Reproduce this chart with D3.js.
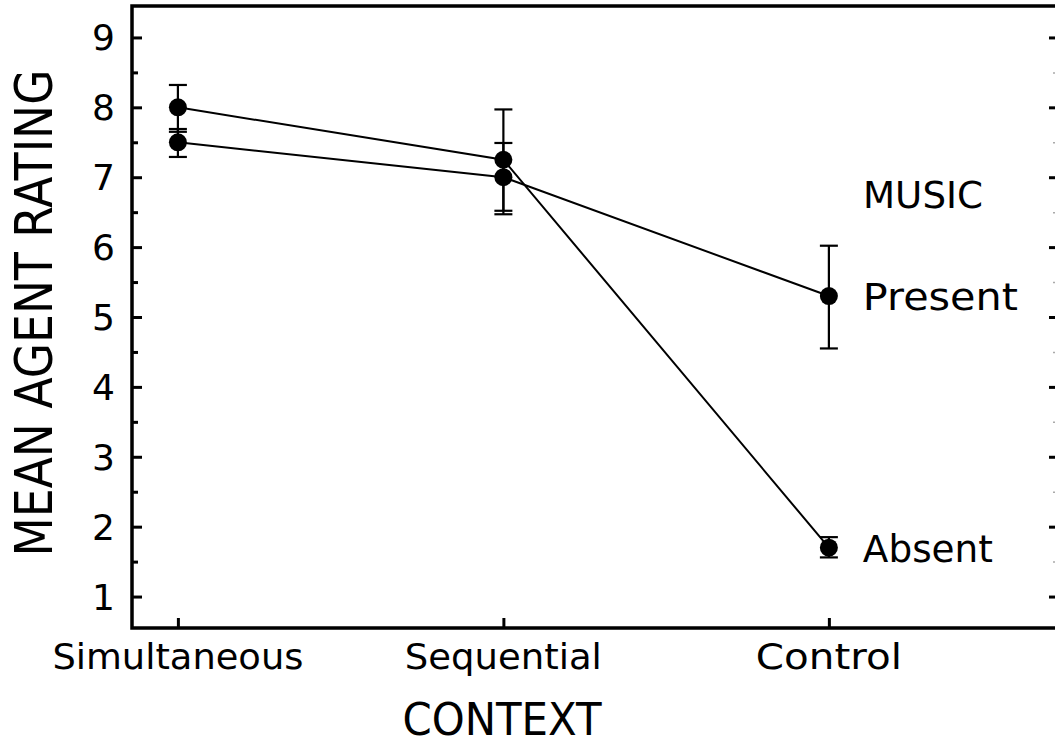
<!DOCTYPE html>
<html>
<head>
<meta charset="utf-8">
<script src="https://cdn.jsdelivr.net/npm/d3@7"></script>
<style>
  html, body { margin: 0; padding: 0; background: #fff; overflow: hidden; }
  svg { display: block; font-family: "DejaVu Sans", sans-serif; }
</style>
</head>
<body>
<div id="chart"></div>
<script>
// categories and series
const contexts = ["Simultaneous", "Sequential", "Control"];
const presentMean = [7.5, 7.0, 5.3];
const presentLo   = [7.29, 6.47, 4.55];
const presentHi   = [7.69, 7.49, 6.02];
const absentMean  = [8.0, 7.25, 1.7];
const absentLo    = [7.65, 6.52, 1.56];
const absentHi    = [8.32, 7.97, 1.85];
const yTicks = [1, 2, 3, 4, 5, 6, 7, 8, 9];
const yMinor = [1.5, 2.5, 3.5, 4.5, 5.5, 6.5, 7.5, 8.5];

const cfg = {
  width: 1055,
  height: 748,
  margin: { left: 132, top: 6, right: -4, bottom: 120 }
};

const series = [
  { name: "Present", mean: presentMean, lo: presentLo, hi: presentHi },
  { name: "Absent",  mean: absentMean,  lo: absentLo,  hi: absentHi }
];

const svg = d3.select("#chart")
  .append("svg")
  .attr("width", cfg.width)
  .attr("height", cfg.height);

const x0 = cfg.margin.left, x1 = cfg.width - cfg.margin.right;
const y0 = cfg.height - cfg.margin.bottom, y1 = cfg.margin.top;

// categories sit on an index scale
const xScale = d3.scaleLinear([-0.141, 2.707], [x0, x1]);
const yScale = d3.scaleLinear([0.55, 9.45], [y0, y1]);

// left axis, ticks inward
const yAxisL = d3.axisRight(yScale).tickValues(yTicks).tickSize(10).tickFormat("");
svg.append("g").attr("transform", `translate(${x0},0)`).call(yAxisL)
  .call(g => g.select(".domain").remove())
  .selectAll("line").attr("stroke-width", 3);
svg.append("g").attr("transform", `translate(${x0},0)`)
  .call(d3.axisRight(yScale).tickValues(yMinor).tickSize(6).tickFormat(""))
  .call(g => g.select(".domain").remove())
  .selectAll("line").attr("stroke-width", 3);

// right axis, mirrored
svg.append("g").attr("transform", `translate(${x1},0)`)
  .call(d3.axisLeft(yScale).tickValues(yTicks).tickSize(10).tickFormat(""))
  .call(g => g.select(".domain").remove())
  .selectAll("line").attr("stroke-width", 3);
svg.append("g").attr("transform", `translate(${x1},0)`)
  .call(d3.axisLeft(yScale).tickValues(yMinor).tickSize(6).tickFormat(""))
  .call(g => g.select(".domain").remove())
  .selectAll("line").attr("stroke-width", 1.5).attr("stroke", "#aaa");

// bottom category ticks
svg.append("g").attr("transform", `translate(0,${y0})`)
  .call(d3.axisTop(xScale).tickValues(d3.range(contexts.length)).tickSize(10).tickFormat(""))
  .call(g => g.select(".domain").remove())
  .selectAll("line").attr("stroke-width", 3);

// frame
svg.append("rect")
  .attr("x", x0).attr("y", y1)
  .attr("width", x1 - x0).attr("height", y0 - y1)
  .attr("fill", "none").attr("stroke", "#000").attr("stroke-width", 3.5);

// y tick labels
svg.append("g").selectAll("text")
  .data(yTicks).join("text")
  .attr("x", x0 - 17)
  .attr("y", d => yScale(d) + 13)
  .attr("text-anchor", "end")
  .attr("font-size", 36)
  .text(d => d);

// category labels
svg.append("g").selectAll("text")
  .data(contexts).join("text")
  .attr("x", (d, i) => xScale(i))
  .attr("y", 669)
  .attr("text-anchor", "middle")
  .attr("font-size", 36)
  .attr("textLength", (d, i) => [251, 197, 146][i])
  .attr("lengthAdjust", "spacingAndGlyphs")
  .text(d => d);

// axis titles
svg.append("text")
  .attr("transform", "translate(502,735) scale(1,1.05)")
  .attr("text-anchor", "middle")
  .attr("font-size", 42)
  .attr("textLength", 199)
  .attr("lengthAdjust", "spacingAndGlyphs")
  .text("CONTEXT");

svg.append("text")
  .attr("transform", "translate(52,313) rotate(-90) scale(1,1.25)")
  .attr("text-anchor", "middle")
  .attr("font-size", 41)
  .attr("textLength", 487)
  .attr("lengthAdjust", "spacingAndGlyphs")
  .text("MEAN AGENT RATING");

// lines
const line = d3.line()
  .x((d, i) => xScale(i))
  .y(d => yScale(d));

svg.append("g").selectAll("path")
  .data(series).join("path")
  .attr("d", d => line(d.mean))
  .attr("fill", "none")
  .attr("stroke", "#000")
  .attr("stroke-width", 2);

// error bars
const bars = svg.append("g").selectAll("g")
  .data(series.flatMap(s => s.mean.map((m, i) => ({ i, lo: s.lo[i], hi: s.hi[i] }))))
  .join("g")
  .attr("stroke", "#000")
  .attr("stroke-width", 2.2);
bars.append("line")
  .attr("x1", d => xScale(d.i)).attr("x2", d => xScale(d.i))
  .attr("y1", d => yScale(d.lo)).attr("y2", d => yScale(d.hi));
bars.append("line")
  .attr("x1", d => xScale(d.i) - 9).attr("x2", d => xScale(d.i) + 9)
  .attr("y1", d => yScale(d.lo)).attr("y2", d => yScale(d.lo));
bars.append("line")
  .attr("x1", d => xScale(d.i) - 9).attr("x2", d => xScale(d.i) + 9)
  .attr("y1", d => yScale(d.hi)).attr("y2", d => yScale(d.hi));

// points
svg.append("g").selectAll("circle")
  .data(series.flatMap(s => s.mean.map((m, i) => ({ i, m }))))
  .join("circle")
  .attr("cx", d => xScale(d.i))
  .attr("cy", d => yScale(d.m))
  .attr("r", 9)
  .attr("fill", "#000");

// series labels
const last = contexts.length - 1;
svg.append("text")
  .attr("x", 863).attr("y", 208)
  .attr("font-size", 37)
  .attr("textLength", 120)
  .attr("lengthAdjust", "spacingAndGlyphs")
  .text("MUSIC");

svg.append("g").selectAll("text")
  .data(series).join("text")
  .attr("x", xScale(last) + 34)
  .attr("y", d => yScale(d.mean[last]) + 14)
  .attr("font-size", 37)
  .attr("textLength", d => d.name === "Present" ? 155 : 130)
  .attr("lengthAdjust", "spacingAndGlyphs")
  .text(d => d.name);
</script>
</body>
</html>
